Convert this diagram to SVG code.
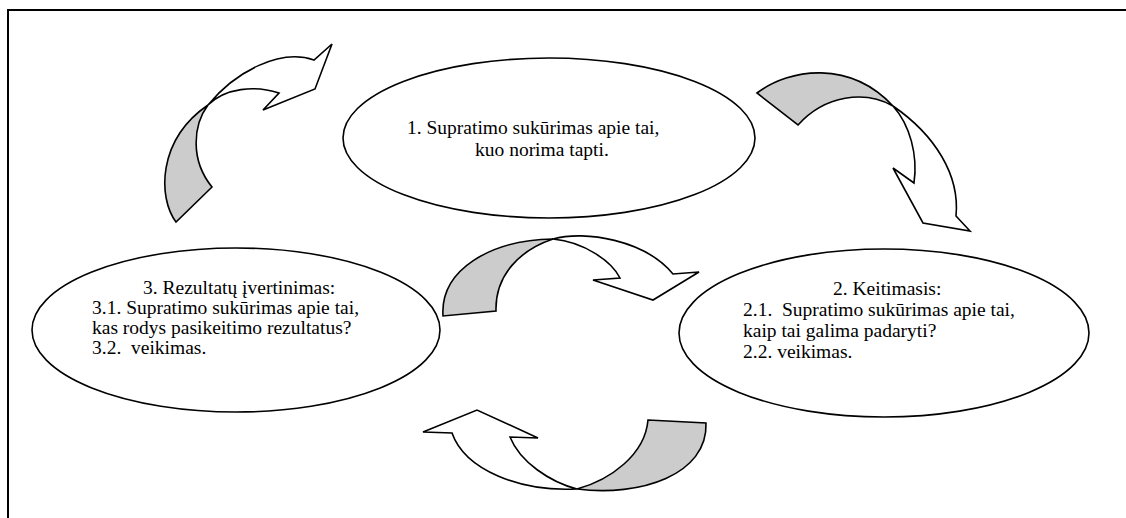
<svg xmlns="http://www.w3.org/2000/svg" width="1126" height="518" viewBox="0 0 1126 518">
  <style>
    .frame { fill: none; stroke: #000; stroke-width: 2; }
    .node ellipse { fill: #fff; stroke: #000; stroke-width: 1.6; }
    .label { font-family: 'Liberation Serif', 'Times New Roman', Times, serif; font-size: 19.5px; fill: #000; white-space: pre; }
    .back { fill: #cccccc; stroke: #000; stroke-width: 1.6; stroke-linejoin: miter; }
    .front { fill: #fff; stroke: #000; stroke-width: 1.6; stroke-linejoin: miter; }
  </style>

  <!-- open frame: top and left edges only -->
  <path class="frame" d="M8 518 V10 H1126"/>

  <!-- curved ribbon arrows: grey back face plus white front face with head -->
  <g id="connectors">
    <g id="arrow-top-left">
      <path class="back" d="M176 222 C158 198 157 140 208 105 C193 125 190 160 212 187 Z"/>
      <path class="front" d="M208 105 C235 72 280 48 314 60 L332 44 L315 89 L263 110 L279 93 C255 85 225 88 208 105 Z"/>
    </g>
    <g id="arrow-top-right">
      <path class="back" d="M757 93 C790 68 850 60 893 106 C865 90 825 95 798 125 Z"/>
      <path class="front" d="M893 106 C935 135 960 175 956 216 L970 231 L923 223 L893 168 L914 183 C918 155 910 125 893 106 Z"/>
    </g>
    <g id="arrow-middle">
      <path class="back" d="M443 316 C440 270 490 240 553 239 C520 250 495 275 496 311 Z"/>
      <path class="front" d="M553 239 C585 230 645 240 673 274 L699 272 L653 300 L593 280 L620 278 C612 262 585 242 553 239 Z"/>
    </g>
    <g id="arrow-bottom">
      <path class="back" d="M648 420 L706 423 C708 475 640 497 577 489 C610 480 645 455 648 420 Z"/>
      <path class="front" d="M577 489 C520 492 465 470 452 433 L423 432 L477 410 L538 438 L510 437 C520 462 550 482 577 489 Z"/>
    </g>
  </g>

  <g id="node-1" class="node">
    <ellipse cx="549" cy="138" rx="206" ry="80"/>
    <text class="label" x="407" y="134">1. Supratimo sukūrimas apie tai,</text>
    <text class="label" x="475" y="156">kuo norima tapti.</text>
  </g>

  <g id="node-2" class="node">
    <ellipse cx="884" cy="333" rx="205" ry="84"/>
    <text class="label" x="833" y="295">2. Keitimasis:</text>
    <text class="label" x="743" y="316">2.1.  Supratimo sukūrimas apie tai,</text>
    <text class="label" x="743" y="337">kaip tai galima padaryti?</text>
    <text class="label" x="743" y="358">2.2. veikimas.</text>
  </g>

  <g id="node-3" class="node">
    <ellipse cx="236" cy="330" rx="204" ry="82"/>
    <text class="label" x="143" y="294">3. Rezultatų įvertinimas:</text>
    <text class="label" x="92" y="314">3.1. Supratimo sukūrimas apie tai,</text>
    <text class="label" x="92" y="334">kas rodys pasikeitimo rezultatus?</text>
    <text class="label" x="92" y="354">3.2.  veikimas.</text>
  </g>
</svg>
